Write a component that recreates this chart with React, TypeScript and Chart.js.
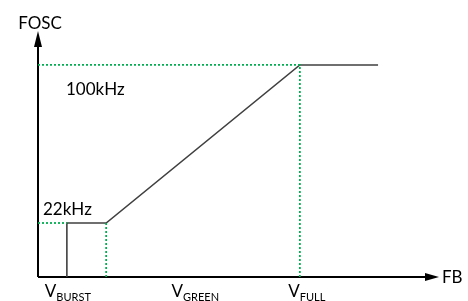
import React, { useEffect, useRef } from "react";
import { Chart, registerables } from "chart.js";

Chart.register(...registerables);

// Normalised axis units (0..10 on both axes)
const xNames = ["BURST", "GREEN", "FULL"];
const vBurst = 0.72;
const vGreen = 1.7;
const vFull = 6.53;
const xEnd = 8.48;
const fLevels = [2.195, 8.62];
const fLabels = ["22kHz", "100kHz"];
const yAxisTitle = "FOSC";
const xAxisTitle = "FB";

const curveX = [vBurst, vBurst, vGreen, vFull, xEnd];
const curveY = [0, fLevels[0], fLevels[0], fLevels[1], fLevels[1]];

const FONT = "Lato, 'Open Sans', sans-serif";

const overlayPlugin = {
  id: "overlay",
  beforeDatasetsDraw(chart: any) {
    const { ctx, scales } = chart;
    const xs = scales.x;
    const ys = scales.y;
    const x0 = xs.getPixelForValue(0);
    const y0 = ys.getPixelForValue(0);
    const xTip = xs.getPixelForValue(10);
    const yTip = ys.getPixelForValue(10);
    ctx.save();
    ctx.strokeStyle = "#000";
    ctx.fillStyle = "#000";
    ctx.lineWidth = 2;
    // x axis
    ctx.beginPath();
    ctx.moveTo(x0, y0);
    ctx.lineTo(xTip - 12, y0);
    ctx.stroke();
    ctx.beginPath();
    ctx.moveTo(xTip, y0);
    ctx.lineTo(xTip - 14, y0 - 4);
    ctx.lineTo(xTip - 14, y0 + 4);
    ctx.closePath();
    ctx.fill();
    // y axis
    ctx.beginPath();
    ctx.moveTo(x0, y0);
    ctx.lineTo(x0, yTip + 12);
    ctx.stroke();
    ctx.beginPath();
    ctx.moveTo(x0, yTip);
    ctx.lineTo(x0 - 4, yTip + 16);
    ctx.lineTo(x0 + 4, yTip + 16);
    ctx.closePath();
    ctx.fill();
    ctx.restore();
  },
  afterDatasetsDraw(chart: any) {
    const { ctx, scales } = chart;
    const xs = scales.x;
    const ys = scales.y;
    const x0 = xs.getPixelForValue(0);
    const y0 = ys.getPixelForValue(0);
    const xTip = xs.getPixelForValue(10);
    const yTip = ys.getPixelForValue(10);
    ctx.save();
    ctx.fillStyle = "#000";
    ctx.textBaseline = "alphabetic";
    ctx.font = `17px ${FONT}`;
    // axis titles
    ctx.textAlign = "center";
    ctx.fillText(yAxisTitle, x0 + 2, yTip - 2);
    ctx.textAlign = "left";
    ctx.fillText(xAxisTitle, xTip + 3, y0 + 6);
    // frequency labels
    ctx.fillText(fLabels[0], x0 + 5, ys.getPixelForValue(fLevels[0]) - 8);
    ctx.fillText(fLabels[1], x0 + 28, ys.getPixelForValue(fLevels[1]) + 30);
    // voltage labels with subscripts
    const centers = [
      xs.getPixelForValue(vBurst) + 1,
      xs.getPixelForValue(vGreen) + 0.46 * (xs.getPixelForValue(vFull) - xs.getPixelForValue(vGreen)),
      xs.getPixelForValue(vFull) + 7,
    ];
    xNames.forEach((name, i) => {
      ctx.font = `17px ${FONT}`;
      const wV = ctx.measureText("V").width;
      ctx.font = `11px ${FONT}`;
      const wS = ctx.measureText(name).width;
      const start = centers[i] - (wV + wS) / 2;
      const base = y0 + 20;
      ctx.textAlign = "left";
      ctx.font = `17px ${FONT}`;
      ctx.fillText("V", start, base);
      ctx.font = `11px ${FONT}`;
      ctx.fillText(name, start + wV, base + 4);
    });
    ctx.restore();
  },
};

export default function App() {
  const ref = useRef<HTMLCanvasElement>(null);
  useEffect(() => {
    document.body.style.margin = "0";
    const green = {
      borderColor: "#00B050",
      borderWidth: 1.8,
      borderDash: [2, 2],
      pointRadius: 0,
      showLine: true,
      fill: false,
    };
    const chart = new Chart(ref.current!, {
      type: "scatter",
      data: {
        datasets: [
          {
            ...green,
            data: [
              { x: 0, y: fLevels[1] },
              { x: vFull, y: fLevels[1] },
              { x: vFull, y: 0 },
            ],
          },
          {
            ...green,
            data: [
              { x: 0, y: fLevels[0] },
              { x: vBurst, y: fLevels[0] },
            ],
          },
          {
            ...green,
            data: [
              { x: vGreen, y: fLevels[0] },
              { x: vGreen, y: 0 },
            ],
          },
          {
            data: curveX.map((x, i) => ({ x, y: curveY[i] })),
            borderColor: "#404040",
            borderWidth: 1.6,
            pointRadius: 0,
            showLine: true,
            fill: false,
          },
        ],
      },
      options: {
        animation: false,
        responsive: false,
        events: [],
        layout: { padding: { left: 38, right: 29, top: 31, bottom: 24 } },
        plugins: { legend: { display: false }, tooltip: { enabled: false } },
        scales: {
          x: { type: "linear", min: 0, max: 10, display: false },
          y: { type: "linear", min: 0, max: 10, display: false },
        },
      },
      plugins: [overlayPlugin],
    });
    return () => chart.destroy();
  }, []);
  return (
    <div style={{ width: 468, height: 301, background: "#fff" }}>
      <canvas ref={ref} width={468} height={301} />
    </div>
  );
}
